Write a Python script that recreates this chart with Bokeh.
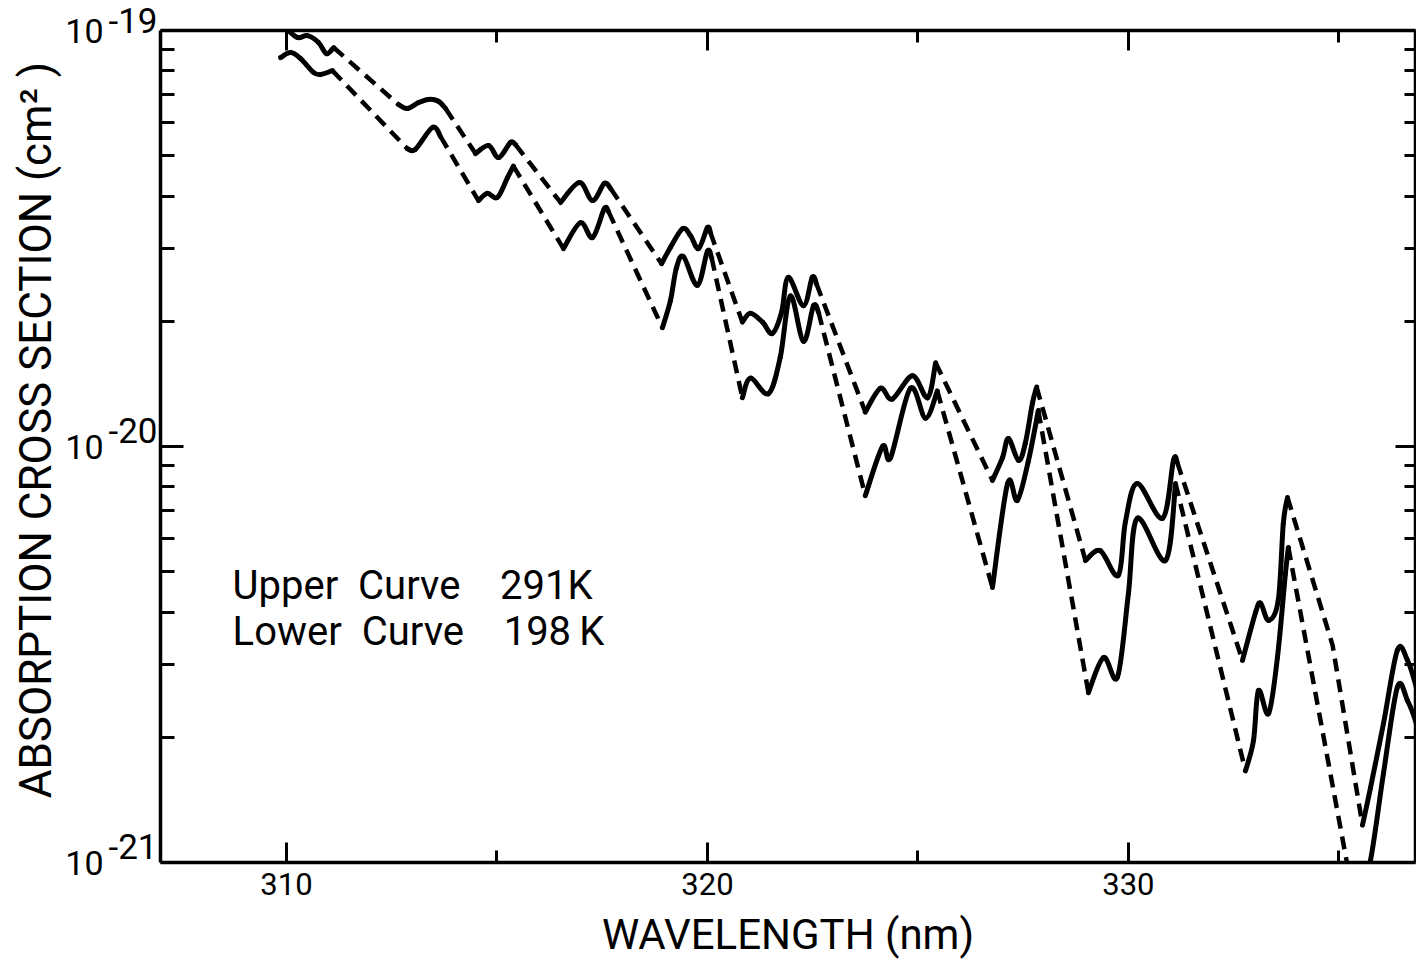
import math

from bokeh.embed import file_html
from bokeh.models import (ColumnDataSource, FixedTicker, Label, LinearAxis,
                          LogAxis, Range1d)
from bokeh.plotting import figure
from bokeh.resources import INLINE

nan = float("nan")
UNIT = 1e-20  # cross sections below are given in units of 1e-20 cm^2

# ---- 291 K (upper curve): measured band segments, NaN separates bands ----
upper_wl = [
    310.00, 310.26, 310.50, 310.76, 310.95, 311.12, nan,
    312.66, 312.87, 313.14, 313.37, 313.61, 313.78, nan,
    314.49, 314.80, 315.04, 315.32, 315.44, nan,
    316.51, 316.96, 317.27, 317.55, 317.70, nan,
    318.91, 319.12, 319.41, 319.60, 319.79, 320.00, 320.07, nan,
    320.83, 321.02, 321.31, 321.54, 321.76, 321.92, 322.28, 322.49, 322.59, nan,
    323.75, 324.11, 324.39, 324.87, 325.23, 325.42, nan,
    326.77, 327.01, 327.15, 327.39, 327.55, 327.72, 327.82, nan,
    328.98, 329.33, 329.76, 329.93, 330.21, 330.81, 331.07, 331.16, nan,
    332.71, 333.02, 333.14, 333.33, 333.56, 333.68, 333.78, nan,
    335.56, 335.75, 336.06, 336.39, 336.63, 336.84, 337.05,
]
upper_sigma = [
    10.1, 9.62, 9.72, 9.36, 8.80, 9.10, nan,
    6.64, 6.49, 6.71, 6.83, 6.76, 6.49, nan,
    5.06, 5.29, 4.95, 5.38, 5.32, nan,
    3.86, 4.31, 3.90, 4.29, 4.17, nan,
    2.75, 3.01, 3.34, 3.21, 2.99, 3.36, 3.27, nan,
    1.99, 2.09, 1.99, 1.87, 2.10, 2.55, 2.18, 2.55, 2.46, nan,
    1.21, 1.38, 1.30, 1.48, 1.31, 1.59, nan,
    0.829, 0.94, 1.045, 0.926, 1.017, 1.27, 1.39, nan,
    0.532, 0.562, 0.490, 0.66, 0.815, 0.672, 0.926, 0.916, nan,
    0.306, 0.399, 0.420, 0.382, 0.427, 0.654, 0.754, nan,
    0.123, 0.151, 0.216, 0.324, 0.306, 0.264, 0.219,
]
# dashed bridges between the 291 K bands
upper_gap_wl = [
    311.12, 312.66, nan, 313.78, 314.49, nan, 315.44, 316.51, nan,
    317.70, 318.91, nan, 320.07, 320.83, nan, 322.59, 323.75, nan,
    325.42, 326.77, nan, 327.82, 328.98, nan, 331.16, 332.71, nan,
    333.78, 334.85, 335.56,
]
upper_gap_sigma = [
    9.10, 6.64, nan, 6.49, 5.06, nan, 5.32, 3.86, nan,
    4.17, 2.75, nan, 3.27, 1.99, nan, 2.46, 1.21, nan,
    1.59, 0.829, nan, 1.39, 0.532, nan, 0.916, 0.306, nan,
    0.754, 0.333, 0.123,
]

# ---- 198 K (lower curve) ----
lower_wl = [
    309.86, 310.10, 310.33, 310.64, 310.81, 311.09, nan,
    312.87, 313.06, 313.47, 313.66, nan,
    314.56, 314.77, 315.01, 315.25, 315.39, nan,
    316.58, 316.98, 317.27, 317.55, 317.65, nan,
    318.93, 319.12, 319.26, 319.43, 319.76, 320.00, 320.10, nan,
    320.83, 321.02, 321.45, 321.73, 321.97, 322.28, 322.52, 322.64, nan,
    323.75, 324.16, 324.35, 324.82, 325.18, 325.46, nan,
    326.77, 327.13, 327.36, 327.62, 327.86, nan,
    329.05, 329.41, 329.74, 330.00, 330.21, 330.88, 331.12, nan,
    332.78, 332.97, 333.09, 333.33, 333.54, 333.73, 333.80, nan,
    335.42, 335.75, 336.06, 336.39, 336.63, 336.84, 337.05,
]
lower_sigma = [
    8.61, 8.85, 8.57, 7.93, 7.84, 8.01, nan,
    5.20, 5.18, 5.85, 5.56, nan,
    3.90, 4.06, 3.97, 4.43, 4.72, nan,
    2.99, 3.45, 3.18, 3.73, 3.67, nan,
    1.93, 2.24, 2.68, 2.86, 2.44, 2.95, 2.84, nan,
    1.31, 1.46, 1.34, 1.64, 2.30, 1.79, 2.18, 2.10, nan,
    0.762, 1.00, 0.94, 1.38, 1.17, 1.36, nan,
    0.458, 0.815, 0.742, 0.92, 1.22, nan,
    0.256, 0.311, 0.279, 0.443, 0.672, 0.532, 0.815, nan,
    0.166, 0.196, 0.259, 0.228, 0.311, 0.495, 0.572, nan,
    0.075, 0.101, 0.164, 0.264, 0.245, 0.216, 0.18,
]
lower_gap_wl = [
    311.09, 312.87, nan, 313.66, 314.56, nan, 315.39, 316.58, nan,
    317.65, 318.93, nan, 320.10, 320.83, nan, 322.64, 323.75, nan,
    325.46, 326.77, nan, 327.86, 329.05, nan, 331.12, 332.78, nan,
    333.80, 335.42,
]
lower_gap_sigma = [
    8.01, 5.20, nan, 5.56, 3.90, nan, 4.72, 2.99, nan,
    3.67, 1.93, nan, 2.84, 1.31, nan, 2.10, 0.762, nan,
    1.36, 0.458, nan, 1.22, 0.256, nan, 0.815, 0.166, nan,
    0.572, 0.075,
]

x_major = [310, 320, 330]
x_minor = [315, 325, 335]
y_major = [1e-21, 1e-20, 1e-19]
y_exponents = ["-21", "-20", "-19"]
y_minor = [k * 1e-21 for k in range(2, 10)] + [k * 1e-20 for k in range(2, 10)]
NB = "\u00a0"
legend_lines = ["Upper" + NB * 2 + "Curve" + NB * 4 + "291K",
                "Lower" + NB * 2 + "Curve" + NB * 4 + "198\u2009K"]

FONT = "Roboto"


def runs(xs, ys):
    out, cx, cy = [], [], []
    for x, y in zip(xs, ys):
        if math.isnan(x):
            if cx:
                out.append((cx, cy))
            cx, cy = [], []
        else:
            cx.append(x)
            cy.append(y)
    if cx:
        out.append((cx, cy))
    return out


def smooth_pieces(xs, ys):
    """Catmull-Rom through the points (in wavelength / log sigma), as Bezier pieces."""
    d = {k: [] for k in ("x0", "y0", "x1", "y1", "cx0", "cy0", "cx1", "cy1")}
    for rx, ry in runs(xs, ys):
        ly = [math.log10(v) for v in ry]
        n = len(rx)
        for i in range(n - 1):
            a, b = max(i - 1, 0), min(i + 2, n - 1)
            d["x0"].append(rx[i])
            d["y0"].append(ry[i] * UNIT)
            d["x1"].append(rx[i + 1])
            d["y1"].append(ry[i + 1] * UNIT)
            d["cx0"].append(rx[i] + (rx[i + 1] - rx[a]) / 6)
            d["cy0"].append(10 ** (ly[i] + (ly[i + 1] - ly[a]) / 6) * UNIT)
            d["cx1"].append(rx[i + 1] - (rx[b] - rx[i]) / 6)
            d["cy1"].append(10 ** (ly[i + 1] - (ly[b] - ly[i]) / 6) * UNIT)
    return ColumnDataSource(d)


def gap_lines(xs, ys):
    r = runs(xs, ys)
    return [x for x, _ in r], [[v * UNIT for v in y] for _, y in r]


p = figure(width=1416, height=962, output_backend="svg", toolbar_location=None,
           x_range=Range1d(307.007, 336.82), y_range=Range1d(1e-21, 1e-19),
           y_axis_type="log", min_border_left=160, min_border_right=1,
           min_border_top=30, min_border_bottom=100)
p.background_fill_color = "white"
p.border_fill_color = "white"
p.outline_line_color = None
p.xgrid.visible = False
p.ygrid.visible = False

xticker = FixedTicker(ticks=x_major, minor_ticks=x_minor)
yticker = FixedTicker(ticks=y_major, minor_ticks=y_minor)


def style_axis(ax, labels=True, ticks=()):
    ax.axis_line_width = 3.5
    ax.axis_line_color = "black"
    ax.major_tick_line_width = 3
    ax.minor_tick_line_width = 3
    ax.major_tick_line_color = "black"
    ax.minor_tick_line_color = "black"
    ax.major_tick_out = 0
    ax.minor_tick_out = 0
    ax.major_tick_in = 20
    ax.minor_tick_in = 12
    ax.major_label_text_color = "black"
    ax.major_label_text_font = FONT
    if not labels:
        ax.major_label_overrides = {t: "" for t in ticks}
        ax.major_label_text_color = None
        ax.major_label_text_font_size = "10px"
        ax.major_label_standoff = 0
        ax.axis_label_standoff = 0


xa = p.xaxis[0]
xa.ticker = xticker
style_axis(xa)
xa.axis_label = "WAVELENGTH (nm)"
xa.axis_label_text_font = FONT
xa.axis_label_text_font_size = "42px"
xa.axis_label_text_font_style = "normal"
xa.axis_label_text_color = "black"
xa.axis_label_standoff = 12
xa.major_label_text_font_size = "31px"
xa.major_label_standoff = 10

# left side: inner axis carries the ticks and the raised exponents,
# outer axis carries the "10" of each decade and the axis title
ya = p.yaxis[0]
ya.ticker = yticker
style_axis(ya)
ya.major_tick_in = 23
ya.minor_tick_in = 14
ya.major_label_overrides = {t: e + "\n " for t, e in zip(y_major, y_exponents)}
ya.major_label_text_font_size = "35px"
ya.major_label_text_line_height = 0.75
ya.major_label_standoff = 3

yb = LogAxis(ticker=yticker)
style_axis(yb)
yb.axis_line_color = None
yb.major_tick_line_color = None
yb.minor_tick_line_color = None
yb.major_label_overrides = {t: "10" for t in y_major}
yb.major_label_text_font_size = "34px"
yb.major_label_standoff = 2
yb.axis_label = NB * 3 + "ABSORPTION CROSS SECTION (cm\u00b2 )"
yb.axis_label_text_font = FONT
yb.axis_label_text_font_size = "44px"
yb.axis_label_text_font_style = "normal"
yb.axis_label_text_color = "black"
yb.axis_label_standoff = 0
p.add_layout(yb, "left")

top = LinearAxis(ticker=xticker)
style_axis(top, labels=False, ticks=x_major)
p.add_layout(top, "above")

right = LogAxis(ticker=yticker)
style_axis(right, labels=False, ticks=y_major)
right.major_tick_in = 20
right.minor_tick_in = 11
p.add_layout(right, "right")

# measured bands: solid, smooth
for wl, sg in ((upper_wl, upper_sigma), (lower_wl, lower_sigma)):
    p.bezier(x0="x0", y0="y0", x1="x1", y1="y1", cx0="cx0", cy0="cy0",
             cx1="cx1", cy1="cy1", source=smooth_pieces(wl, sg),
             line_color="black", line_width=5, line_cap="round")

# bridges between bands: dashed
for wl, sg in ((upper_gap_wl, upper_gap_sigma), (lower_gap_wl, lower_gap_sigma)):
    gx, gy = gap_lines(wl, sg)
    p.multi_line(xs=gx, ys=gy, line_color="black", line_width=4.5,
                 line_dash="13 8", line_cap="butt")

for text, y in zip(legend_lines, (4.63e-21, 3.59e-21)):
    p.add_layout(Label(x=308.72, y=y, text=text, text_font=FONT,
                       text_font_size="40px", text_baseline="middle",
                       text_color="black"))

open("out.html", "w").write(file_html(p, INLINE))
